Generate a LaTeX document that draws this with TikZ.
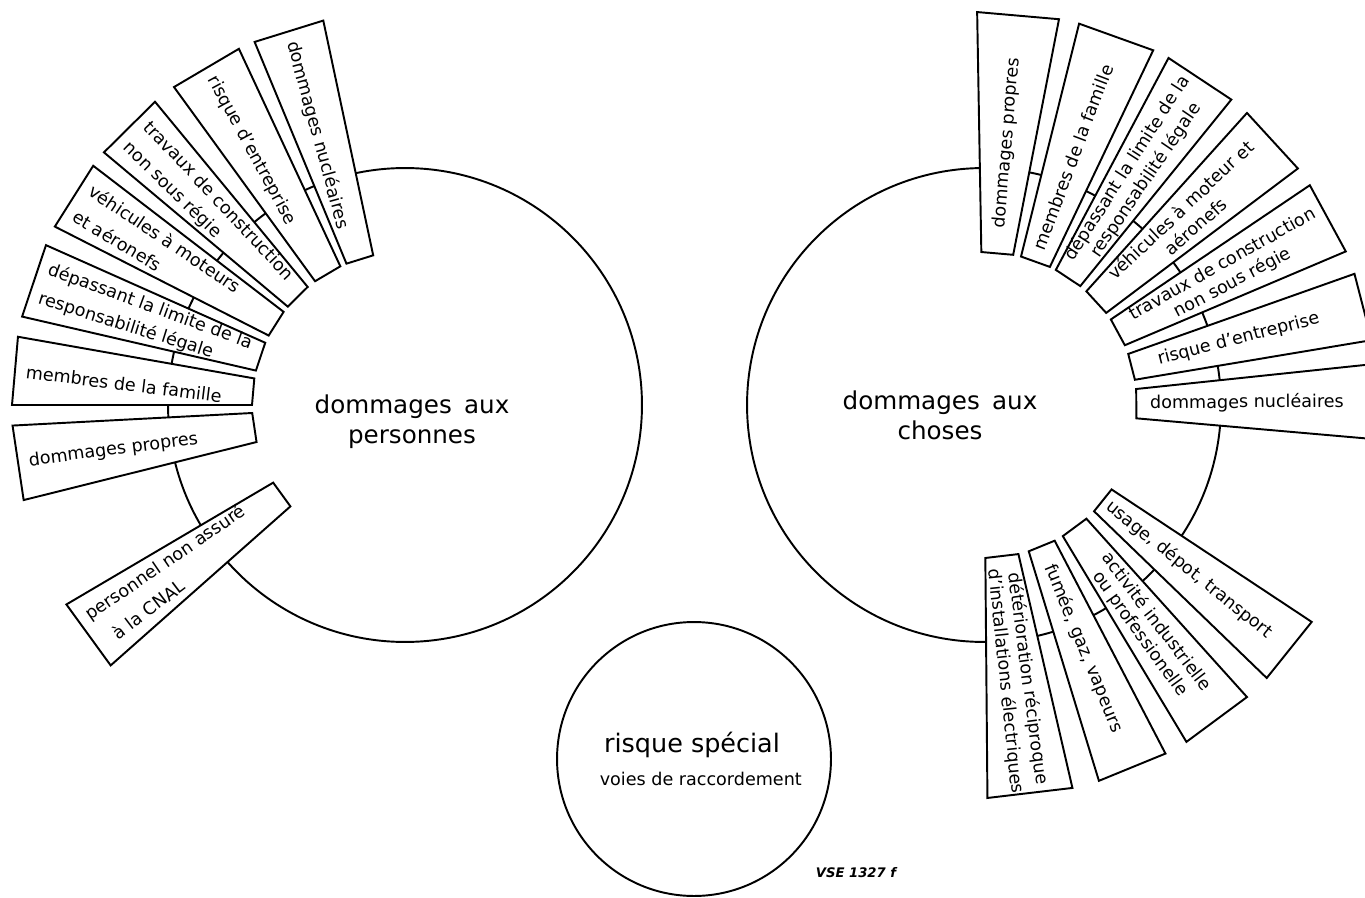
\documentclass[tikz,border=0pt]{standalone}
\usepackage{fontspec}
\setmainfont{DejaVu Sans}
\usetikzlibrary{positioning}

\begin{document}
\begin{tikzpicture}[
    x=0.02cm, y=0.02cm,
    font=\fontsize{10}{12}\selectfont,
    line width=1.1pt,
    disc/.style={draw, circle, inner sep=0pt, outer sep=0pt},
    fanbox/.style={draw, fill=white, line join=miter},
    lefttxt/.style={anchor=west, inner sep=1pt},
    righttxt/.style={anchor=center, inner sep=1pt},
    bigtxt/.style={font=\fontsize{14}{17}\selectfont, align=center}
  ]
    \useasboundingbox (0,0) rectangle (1365,-898);
    \clip (0,0) rectangle (1365,-898);
    \node[disc, minimum size=9.48cm] (pers) at (405,-405) {};
    \node[disc, minimum size=9.48cm] (chos) at (984,-405) {};
    \node[disc, minimum size=5.48cm] (spec) at (694,-759) {};
    \begin{scope}[shift={(pers.center)}]
      \foreach \a/\b in {102/112.5, 115/126, 129.5/140, 142.5/153,
                         156/167, 170/180, 183/194, 210.5/221.5}
        \draw[fanbox] (\a:153) -- (\a:393) -- (\b:393) -- (\b:153) -- cycle;
      \foreach \m/\d/\t [count=\i] in {
          107.25/-2/{dommages nucléaires},
          120.5/-2/{risque d'entreprise},
          175/-2/{membres de la famille},
          188.5/-1/{dommages propres}}
        \node[lefttxt, rotate={\m-180+\d}] (pl\i) at (\m:383) {\t};
      \foreach \m/\t/\u [count=\i] in {
          134.75/{travaux de construction}/{non sous régie},
          147.75/{véhicules à moteurs}/{et aéronefs},
          161.5/{dépassant la limite de la}/{responsabilité légale},
          216/{personnel non assuré}/{\ \ à la CNAL}} {
        \node[lefttxt, rotate={\m-181.6}] (pltop\i) at ({\m-2.3}:384) {\t};
        \node[lefttxt, rotate={\m-178.8}] (plbot\i) at ({\m+2.3}:384) {\u};
      }
    \end{scope}
    \begin{scope}[shift={(chos.center)}]
      \foreach \a/\b in {79/91, 64.5/76, 51/62, 37/48, 23/34, 9.5/19.5, -5/6,
                         -44/-33.5, -59/-48, -73/-62.5, -89.5/-77}
        \draw[fanbox] (\a:153) -- (\a:393) -- (\b:393) -- (\b:153) -- cycle;
      \foreach \m/\d/\t [count=\i] in {
          85/0/{dommages propres},
          70.25/-1/{membres de la famille},
          14.5/0/{risque d'entreprise},
          0.5/0/{dommages nucléaires},
          -38.75/0/{usage, dépot, transport},
          -67.75/0/{fumée, gaz, vapeurs}}
        \node[righttxt, rotate={\m+\d}] (cr\i) at (\m:263) {\t};
      \foreach \m/\t/\u [count=\i] in {
          56.5/{dépassant la limite de la}/{responsabilité légale},
          42.5/{véhicules à moteur et}/{aéronefs},
          28.5/{travaux de construction}/{non sous régie},
          -53.5/{activité industrielle}/{ou professionelle},
          -83.25/{détérioration réciproque}/{d'installations électriques}} {
        \node[righttxt, rotate={\m+0.8}] (crtop\i) at ({\m+2.3}:277) {\t};
        \node[righttxt, rotate={\m-0.8}] (crbot\i) at ({\m-2.3}:277) {\u};
      }
    \end{scope}
    \node[bigtxt] (perstxt) at (412,-422) {dommages\enspace aux\\personnes};
    \node[bigtxt] (chostxt) at (940,-415) {dommages\enspace aux\\choses};
    \node[font=\fontsize{14.5}{17}\selectfont, inner sep=0pt] (spectxt) at (692,-745) {risque spécial};
    \node[below=2.4mm of spectxt, xshift=5pt, inner sep=0pt] (voies) {voies de raccordement};
    \node[font=\fontsize{7.5}{9}\selectfont\bfseries\itshape] (ref) at (856,-873) {VSE 1327 f};
  \end{tikzpicture}
\end{document}
